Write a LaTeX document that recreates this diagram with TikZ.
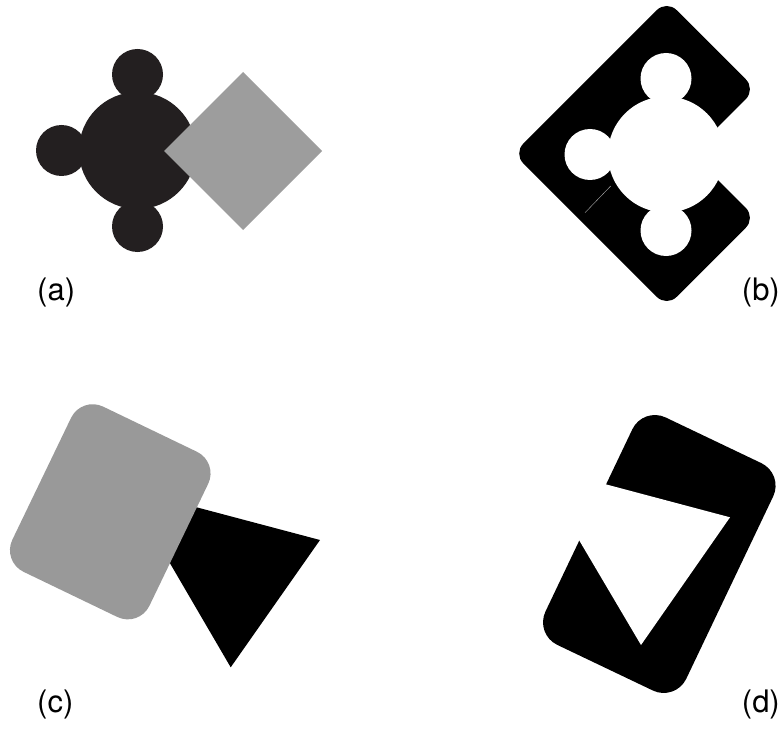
\documentclass[tikz,border=0pt]{standalone}
\usepackage{fontspec}
\setmainfont{TeX Gyre Heros}
\definecolor{darkblob}{HTML}{231F20}
\definecolor{lightgray}{HTML}{9D9D9D}
\definecolor{midgray}{HTML}{999999}
\begin{document}
\begin{tikzpicture}[x=1pt,y=-1pt]
      \tikzset{lbl/.style={inner sep=0pt, font=\fontsize{31}{36}\selectfont}}
      \useasboundingbox (0,0) rectangle (781,730);
      % (a) circle with bumps, grey square on top
      \fill[darkblob] (137.5,150.5) circle (58.5);
      \foreach \ang in {90,180,270}
        \fill[darkblob] (137.5,150.5) ++(\ang:76) circle (25.5);
      \fill[lightgray] (164,151) -- (243,72) -- (322,151) -- (243,230) -- cycle;
      % (b) black frame minus the blob
      \fill[black, rounded corners=14] (666.7,0.2) -- (755.7,89.2) -- (691.4,153.5)
        -- (755.7,217.8) -- (666.7,306.8) -- (513.4,153.5) -- cycle;
      \fill[white] (666,154.5) circle (58);
      \foreach \ang in {90,180,270}
        \fill[white] (666,154.5) ++(\ang:76) circle (25.5);
      \draw[gray!60, line width=0.4pt] (585,212.7) -- (610.7,186);
      % (c) triangle under rounded grey box
      \fill[black] (126.5,488.7) -- (320,540) -- (230.7,667.3) -- cycle;
      \fill[midgray, rounded corners=24] (81.5,396.2) -- (218.6,462.2) -- (139,627.4)
        -- (1.9,561.4) -- cycle;
      % (d) rounded box minus triangle
      \fill[black, rounded corners=25] (643.1,406.7) -- (783.9,473.9) -- (675.5,701.3)
        -- (534.7,634.1) -- cycle;
      \fill[white] (535,465.5) -- (730,517.3) -- (641,645) -- cycle;
      \node[lbl, anchor=base west] (la) at (37,300) {(a)};
      \node[lbl, anchor=base east] (lb) at (780,300) {(b)};
      \node[lbl, anchor=base west] (lc) at (37,712) {(c)};
      \node[lbl, anchor=base east] (ld) at (780,712) {(d)};
    \end{tikzpicture}
\end{document}
